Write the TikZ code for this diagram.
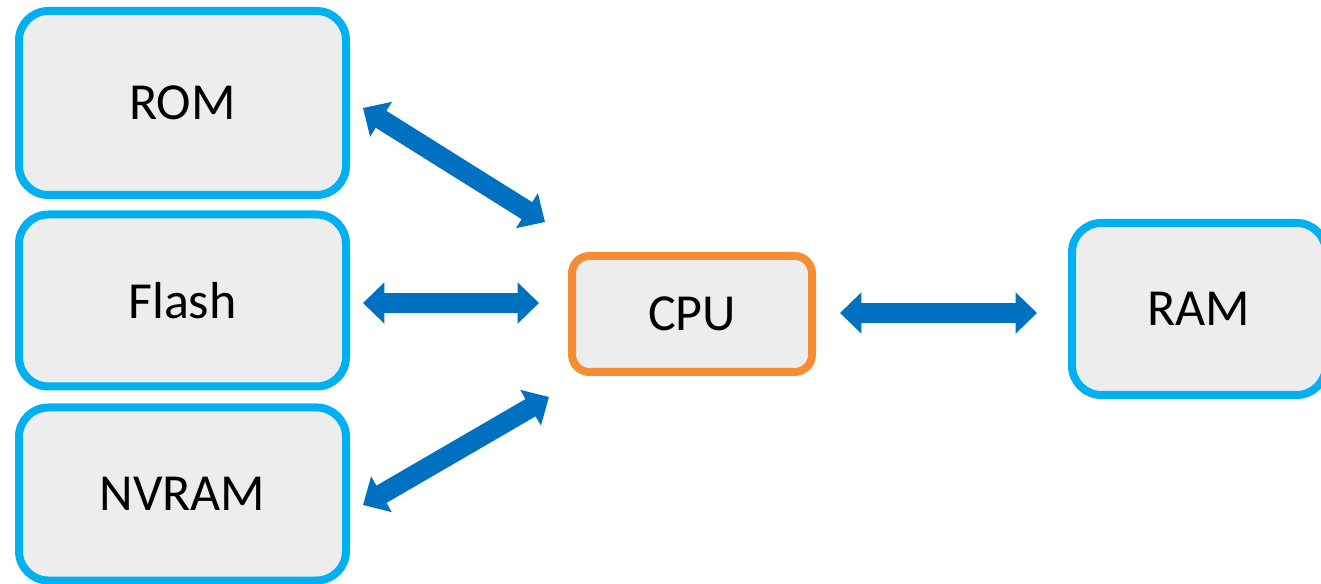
\documentclass[tikz,border=0pt]{standalone}
\usepackage{fontspec}
\setmainfont{Carlito}
\usetikzlibrary{arrows.meta,shadows}
\definecolor{boxblue}{HTML}{00B0F0}
\definecolor{boxfill}{HTML}{EDEDED}
\definecolor{cpuorange}{HTML}{F68D33}
\definecolor{arrowblue}{HTML}{0070C0}
\begin{document}
\begin{tikzpicture}[x=0.75pt,y=-0.75pt,
  membox/.style={draw=boxblue, fill=boxfill, line width=6pt, rounded corners=22pt,
    inner sep=0pt, outer sep=0pt, font=\fontsize{39}{46}\selectfont,
    drop shadow={opacity=0.25, fill=black, shadow xshift=1pt, shadow yshift=-2.5pt}},
  cpubox/.style={membox, draw=cpuorange, rounded corners=13pt},
  bigarrow/.style={draw=arrowblue, line width=15pt,
    {Triangle[length=16pt,width=30pt]}-{Triangle[length=16pt,width=30pt]}}
]
\useasboundingbox (0,0) rectangle (1321,584);
\node[membox, minimum width=245.25pt, minimum height=138pt] (rom) at (182.5,103) {ROM};
\node[membox, minimum width=245.25pt, minimum height=129pt] (flash) at (182.5,300.5) {Flash};
\node[membox, minimum width=245.25pt, minimum height=129.75pt] (nvram) at (182.5,494) {NVRAM};
\node[cpubox, minimum width=180pt, minimum height=87pt] (cpu) at (692,314) {CPU};
\node[membox, minimum width=190.5pt, minimum height=129pt] (ram) at (1199,309) {RAM};

\draw[bigarrow] ([shift={(17,5)}]rom.east) -- ([shift={(-27,-34)}]cpu.north west);
\draw[bigarrow] ([shift={(17,2.5)}]flash.east) -- ([shift={(-33,-11)}]cpu.west);
\draw[bigarrow] ([shift={(17,11)}]nvram.east) -- ([shift={(-23,25)}]cpu.south west);
\draw[bigarrow] ([shift={(28,-1)}]cpu.east) -- ([shift={(-35,4)}]ram.west);
\end{tikzpicture}
\end{document}
